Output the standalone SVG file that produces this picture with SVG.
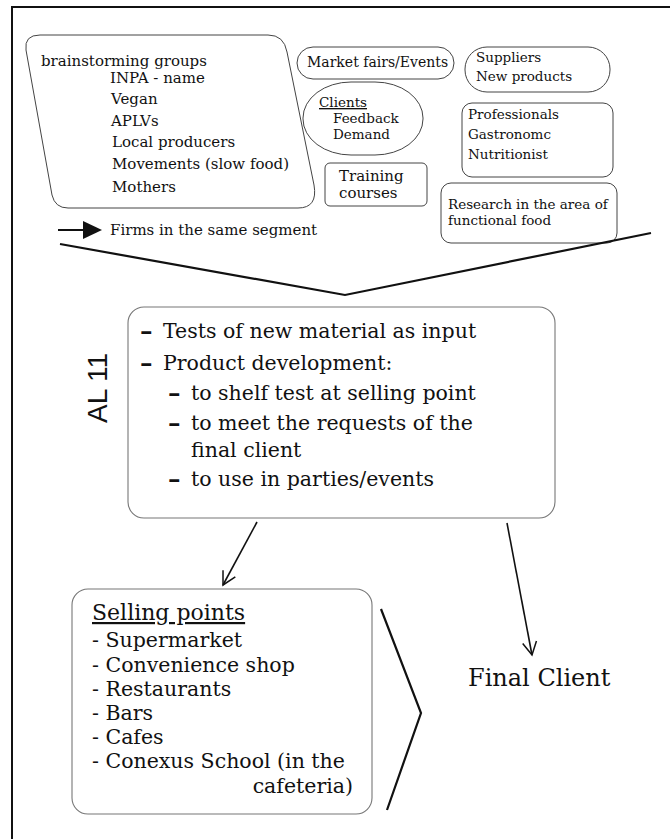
<svg xmlns="http://www.w3.org/2000/svg" width="670" height="839" viewBox="0 0 670 839">
<style>
.t{font-family:"DejaVu Serif","Liberation Serif",serif;fill:#111}
.s15{font-size:15px}
.s14{font-size:14px}
.s135{font-size:13.5px}
.big{font-size:20.5px}
.box{fill:#fff;stroke:#444;stroke-width:1}
.lbox{fill:#fff;stroke:#777;stroke-width:1.1}
.conn{fill:none;stroke:#111;stroke-width:1.6}
.thick{fill:none;stroke:#111;stroke-width:2.2}
.dash{font-weight:bold;font-size:25px}
</style>
<defs>
<marker id="open" viewBox="-1 -9 16 18" refX="13" refY="0" markerWidth="16" markerHeight="18" markerUnits="userSpaceOnUse" orient="auto">
<path d="M0,-7 L13,0 L0,7" fill="none" stroke="#111" stroke-width="1.5"/>
</marker>
<marker id="solid" viewBox="0 -10 20 20" refX="0" refY="0" markerWidth="20" markerHeight="20" markerUnits="userSpaceOnUse" orient="auto">
<path d="M0,-9 L19,0 L0,9 Z" fill="#111"/>
</marker>
</defs>
<rect width="670" height="839" fill="#fff"/>
<path d="M12,839 L12,7 L670,7" fill="none" stroke="#111" stroke-width="2"/>

<g id="brainstorming">
<path class="box" d="M40,35 L268,35 Q284,35 287,52 L314,185 Q318,208 298,208 L68,208 Q55,208 52,195 L26,50 Q24,35 40,35 Z"/>
<text class="t s15" x="41" y="66">brainstorming groups</text>
<text class="t s15" x="110" y="83">INPA - name</text>
<text class="t s15" x="111" y="104">Vegan</text>
<text class="t s15" x="111" y="126">APLVs</text>
<text class="t s15" x="112" y="147">Local producers</text>
<text class="t s15" x="112" y="169">Movements (slow food)</text>
<text class="t s15" x="112" y="192">Mothers</text>
</g>

<g id="market">
<rect class="box" x="297" y="47" width="157" height="32" rx="16"/>
<text class="t s14" x="307" y="67">Market fairs/Events</text>
</g>

<g id="suppliers">
<rect class="box" x="465" y="47" width="145" height="45" rx="22"/>
<text class="t s135" x="476" y="62">Suppliers</text>
<text class="t s135" x="476" y="81">New products</text>
</g>

<g id="clients">
<rect class="box" x="303" y="82" width="120" height="73" rx="48" ry="36"/>
<text class="t s135" x="319" y="107" text-decoration="underline">Clients</text>
<text class="t s135" x="333" y="123">Feedback</text>
<text class="t s135" x="333" y="139">Demand</text>
</g>

<g id="training">
<rect class="box" x="325" y="163" width="102" height="43" rx="5"/>
<text class="t s15" x="339" y="181">Training</text>
<text class="t s15" x="339" y="198">courses</text>
</g>

<g id="professionals">
<rect class="box" x="462" y="103" width="151" height="74" rx="10"/>
<text class="t s135" x="468" y="119">Professionals</text>
<text class="t s135" x="468" y="139">Gastronomc</text>
<text class="t s135" x="468" y="159">Nutritionist</text>
</g>

<g id="research">
<rect class="box" x="441" y="183" width="176" height="60" rx="10"/>
<text class="t s135" x="448" y="209">Research in the area of</text>
<text class="t s135" x="448" y="225">functional food</text>
</g>

<g id="firms">
<text class="t s15" x="110" y="235">Firms in the same segment</text>
</g>

<g id="al11">
<rect class="lbox" x="128" y="307" width="427" height="211" rx="16"/>
<text transform="translate(107,388) rotate(-90)" text-anchor="middle" style="font-family:'Liberation Sans',Arial,sans-serif;font-size:28px;fill:#111">AL 11</text>
<text class="t dash" x="140" y="339">–</text>
<text class="t big" x="163" y="338">Tests of new material as input</text>
<text class="t dash" x="140" y="371">–</text>
<text class="t big" x="163" y="370">Product development:</text>
<text class="t dash" x="168" y="401">–</text>
<text class="t big" x="191" y="400">to shelf test at selling point</text>
<text class="t dash" x="168" y="431">–</text>
<text class="t big" x="191" y="430">to meet the requests of the</text>
<text class="t big" x="191" y="457">final client</text>
<text class="t dash" x="168" y="487">–</text>
<text class="t big" x="191" y="486">to use in parties/events</text>
</g>

<g id="selling">
<rect class="lbox" x="72" y="589" width="300" height="225" rx="16"/>
<text class="t" x="92" y="620" text-decoration="underline" style="font-size:22px">Selling points</text>
<text class="t big" x="92" y="647">- Supermarket</text>
<text class="t big" x="92" y="672">- Convenience shop</text>
<text class="t big" x="92" y="696">- Restaurants</text>
<text class="t big" x="92" y="720">- Bars</text>
<text class="t big" x="92" y="744">- Cafes</text>
<text class="t big" x="92" y="768">- Conexus School (in the</text>
<text class="t big" x="353" y="793" text-anchor="end">cafeteria)</text>
</g>

<g id="final">
<text class="t" x="468" y="686" style="font-size:24px">Final Client</text>
</g>

<g id="connectors">
<line class="conn" x1="58" y1="230" x2="83" y2="230" marker-end="url(#solid)" style="stroke-width:2"/>
<polyline class="thick" points="60,244 345,295 651,233"/>
<line class="conn" x1="257" y1="522" x2="223" y2="585" marker-end="url(#open)"/>
<line class="conn" x1="507" y1="523" x2="532" y2="655" marker-end="url(#open)"/>
<polyline class="thick" points="381,609 421,713 387,810"/>
</g>
</svg>
